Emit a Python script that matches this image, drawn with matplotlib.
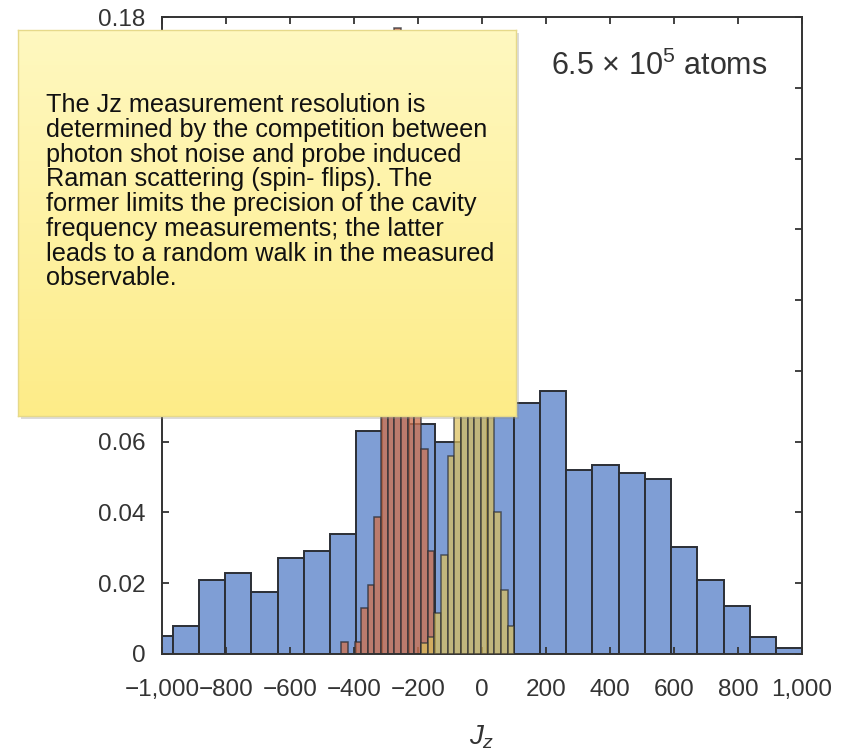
import numpy as np
import matplotlib.pyplot as plt
from matplotlib.colors import LinearSegmentedColormap
from matplotlib.patches import Rectangle

plt.rcParams['font.family'] = ['Liberation Sans', 'DejaVu Sans']
plt.rcParams['mathtext.fontset'] = 'custom'
plt.rcParams['mathtext.rm'] = 'Liberation Sans'
plt.rcParams['mathtext.it'] = 'Liberation Sans:italic'

# --- datos ---
# histograma ancho (azul): 25 bins de 82 desde -1049
blue_start, blue_w = -1049, 82
blue_vals = [0.005, 0.008, 0.021, 0.023, 0.0176, 0.027, 0.029, 0.034, 0.063,
             0.074, 0.065, 0.060, 0.072, 0.078, 0.071, 0.0743, 0.052, 0.0534,
             0.0511, 0.0494, 0.0302, 0.0209, 0.0136, 0.0049, 0.0016]

# histogramas finos (rojo / amarillo), misma rejilla de bins
fine_start, fine_w = -440, 20.8
red_vals = [0.0035, 0.0, 0.0035, 0.013, 0.0194, 0.0388, 0.08, 0.13, 0.177,
            0.175, 0.16, 0.11, 0.058, 0.029, 0, 0, 0, 0, 0, 0, 0, 0, 0, 0, 0, 0]
yellow_vals = [0, 0, 0, 0, 0, 0, 0, 0, 0, 0, 0, 0, 0.003, 0.0047, 0.0115,
               0.028, 0.056, 0.10, 0.14, 0.165, 0.17, 0.15, 0.106, 0.040,
               0.018, 0.008]

xticks = [-1000, -800, -600, -400, -200, 0, 200, 400, 600, 800, 1000]
xtick_labels = ['\u22121,000', '\u2212800', '\u2212600', '\u2212400', '\u2212200',
                '0', '200', '400', '600', '800', '1,000']
yticks = [0, 0.02, 0.04, 0.06, 0.08, 0.10, 0.12, 0.14, 0.16, 0.18]
# las etiquetas 0.08-0.16 quedan tapadas por la nota
ytick_labels = ['0', '0.02', '0.04', '0.06', '', '', '', '', '', '0.18']

note_text = ("The Jz measurement resolution is\n"
             "determined by the competition between\n"
             "photon shot noise and probe induced\n"
             "Raman scattering (spin- flips). The\n"
             "former limits the precision of the cavity\n"
             "frequency measurements; the latter\n"
             "leads to a random walk in the measured\n"
             "observable.")

W, H = 857, 754
fig = plt.figure(figsize=(W / 100, H / 100), dpi=100)
ax = fig.add_axes([162 / W, 1 - 654 / H, 640 / W, 637 / H])

edge = '#2b2e35'

bl = blue_start + blue_w * np.arange(len(blue_vals))
ax.bar(bl, blue_vals, width=blue_w, align='edge', color='#7f9ed5',
       edgecolor=edge, linewidth=1.4, zorder=1)

fl = fine_start + fine_w * np.arange(len(red_vals))
red = np.array(red_vals)
yel = np.array(yellow_vals)
m = red > 0
ax.bar(fl[m], red[m], width=fine_w, align='edge', color='#cd7250', alpha=0.78,
       edgecolor=edge, linewidth=1.1, zorder=2)
m = yel > 0
ax.bar(fl[m], yel[m], width=fine_w, align='edge', color='#dcc05c', alpha=0.72,
       edgecolor=edge, linewidth=1.1, zorder=3)

ax.set_xlim(-1000, 1000)
ax.set_ylim(0, 0.18)
ax.set_xticks(xticks)
ax.set_xticklabels(xtick_labels)
ax.set_yticks(yticks)
ax.set_yticklabels(ytick_labels)
ax.tick_params(direction='in', length=5, width=1.3, color='#333333',
               labelsize=17.5, labelcolor='#333333', top=True, right=True)
ax.tick_params(axis='x', pad=18)
ax.tick_params(axis='y', pad=12)
for s in ax.spines.values():
    s.set_color('#333333')
    s.set_linewidth(1.4)
ax.set_xlabel('$J_z$', fontsize=20, color='#333333', labelpad=16)

ax.text(0.777, 0.923, '6.5 \u00d7 10$^{5}$ atoms', transform=ax.transAxes,
        ha='center', va='center', fontsize=22, color='#333333')

# --- nota adhesiva ---
nx0, ny0, nw, nh = 18, 30, 498, 386
shadow = Rectangle(((nx0 + 3) / W, 1 - (ny0 + nh + 3) / H), nw / W, nh / H,
                   transform=fig.transFigure, color='#888888', alpha=0.3,
                   zorder=9, linewidth=0)
fig.patches.append(shadow)

nax = fig.add_axes([nx0 / W, 1 - (ny0 + nh) / H, nw / W, nh / H], zorder=10)
cmap = LinearSegmentedColormap.from_list('note', ['#fdec88', '#fff8c0'])
nax.imshow(np.linspace(0, 1, 100).reshape(-1, 1)[::-1], cmap=cmap,
           aspect='auto', extent=[0, 1, 0, 1])
nax.set_xlim(0, 1)
nax.set_ylim(0, 1)
nax.set_xticks([])
nax.set_yticks([])
for s in nax.spines.values():
    s.set_color('#e6d98a')
    s.set_linewidth(1)

nax.text(28 / nw, 1 - (93 - ny0) / nh, note_text, transform=nax.transAxes,
         fontsize=18.2, va='top', ha='left', color='#111111', linespacing=1.04)

plt.savefig('out.png', dpi=100)
